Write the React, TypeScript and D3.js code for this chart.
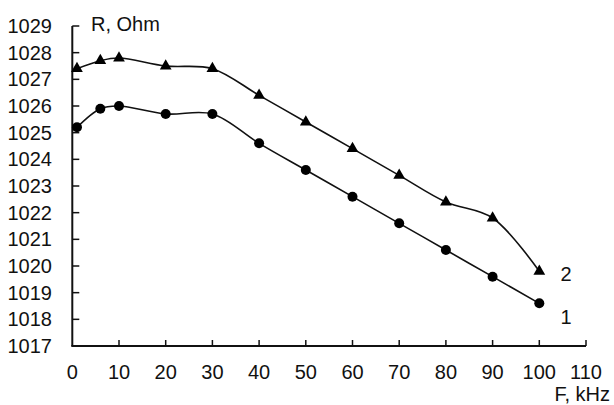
import { useEffect, useRef } from 'react'
import * as d3 from 'd3'

const freq = [1, 6, 10, 20, 30, 40, 50, 60, 70, 80, 90, 100]
const series1 = [1025.2, 1025.9, 1026.0, 1025.7, 1025.7, 1024.6, 1023.6, 1022.6, 1021.6, 1020.6, 1019.6, 1018.6]
const series2 = [1027.4, 1027.7, 1027.8, 1027.5, 1027.4, 1026.4, 1025.4, 1024.4, 1023.4, 1022.4, 1021.8, 1019.8]
const xTicks = [0, 10, 20, 30, 40, 50, 60, 70, 80, 90, 100, 110]
const yTicks = [1017, 1018, 1019, 1020, 1021, 1022, 1023, 1024, 1025, 1026, 1027, 1028, 1029]

const W = 614
const H = 405
const FONT = '"Liberation Sans", Arial, sans-serif'

export default function App() {
  const ref = useRef<SVGSVGElement>(null)

  useEffect(() => {
    if (!ref.current) return
    const svg = d3.select(ref.current)
    svg.selectAll('*').remove()

    const x = d3.scaleLinear().domain([0, 110]).range([72.3, 586])
    const y = d3.scaleLinear().domain([1017, 1029]).range([346, 26])

    // axes
    svg.append('line')
      .attr('x1', x(0)).attr('x2', x(0)).attr('y1', y(1029)).attr('y2', y(1017))
      .attr('stroke', '#111').attr('stroke-width', 2)
    svg.append('line')
      .attr('x1', x(0) - 1).attr('x2', x(110)).attr('y1', y(1017)).attr('y2', y(1017))
      .attr('stroke', '#111').attr('stroke-width', 2)

    svg.selectAll('line.yt').data(yTicks.slice(1)).enter().append('line')
      .attr('class', 'yt')
      .attr('x1', x(0)).attr('x2', x(0) + 7)
      .attr('y1', d => y(d)).attr('y2', d => y(d))
      .attr('stroke', '#111').attr('stroke-width', 1.5)

    svg.selectAll('line.xt').data(xTicks.slice(1)).enter().append('line')
      .attr('class', 'xt')
      .attr('x1', d => x(d)).attr('x2', d => x(d))
      .attr('y1', y(1017)).attr('y2', y(1017) - 6)
      .attr('stroke', '#111').attr('stroke-width', 1.5)

    svg.selectAll('text.yl').data(yTicks).enter().append('text')
      .attr('class', 'yl')
      .attr('x', 52).attr('y', d => y(d) + 7)
      .attr('text-anchor', 'end')
      .attr('font-family', FONT).attr('font-size', 20).attr('fill', '#111')
      .text(d => d)

    svg.selectAll('text.xl').data(xTicks).enter().append('text')
      .attr('class', 'xl')
      .attr('x', d => x(d)).attr('y', y(1017) + 33)
      .attr('text-anchor', 'middle')
      .attr('font-family', FONT).attr('font-size', 20).attr('fill', '#111')
      .text(d => d)

    svg.append('text')
      .attr('x', 91).attr('y', 31)
      .attr('font-family', FONT).attr('font-size', 20).attr('fill', '#111')
      .text('R, Ohm')
    svg.append('text')
      .attr('x', 610).attr('y', 401)
      .attr('text-anchor', 'end')
      .attr('font-family', FONT).attr('font-size', 20).attr('fill', '#111')
      .text('F, kHz')

    // curves
    const line = d3.line<[number, number]>()
      .x(d => x(d[0])).y(d => y(d[1]))
      .curve(d3.curveCatmullRom.alpha(0.5))

    const pts1 = freq.map((f, i) => [f, series1[i]] as [number, number])
    const pts2 = freq.map((f, i) => [f, series2[i]] as [number, number])

    for (const pts of [pts1, pts2]) {
      svg.append('path')
        .attr('d', line(pts))
        .attr('fill', 'none').attr('stroke', '#111').attr('stroke-width', 1.6)
    }

    svg.selectAll('circle.m1').data(pts1).enter().append('circle')
      .attr('class', 'm1')
      .attr('cx', d => x(d[0])).attr('cy', d => y(d[1]))
      .attr('r', 5).attr('fill', '#000')

    const tri = d3.symbol().type(d3.symbolTriangle).size(60)
    svg.selectAll('path.m2').data(pts2).enter().append('path')
      .attr('class', 'm2')
      .attr('d', tri)
      .attr('transform', d => `translate(${x(d[0])},${y(d[1])})`)
      .attr('fill', '#000')

    // series labels
    svg.append('text')
      .attr('x', 566).attr('y', 281)
      .attr('text-anchor', 'middle')
      .attr('font-family', FONT).attr('font-size', 20).attr('fill', '#111')
      .text('2')
    svg.append('text')
      .attr('x', 566).attr('y', 324)
      .attr('text-anchor', 'middle')
      .attr('font-family', FONT).attr('font-size', 20).attr('fill', '#111')
      .text('1')
  }, [])

  return (
    <div style={{ position: 'absolute', left: 0, top: 0, background: '#fff' }}>
      <svg ref={ref} width={W} height={H} style={{ display: 'block' }} />
    </div>
  )
}
